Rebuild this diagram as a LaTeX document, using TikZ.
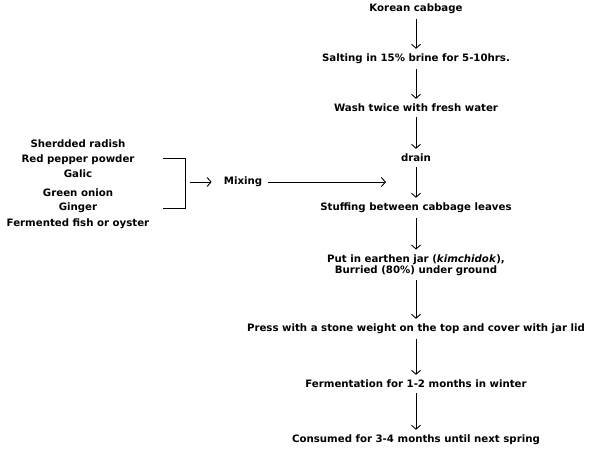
\documentclass[tikz,border=0pt]{standalone}
\usepackage{fontspec}
\setmainfont{DejaVu Sans}
\usetikzlibrary{arrows.meta}

\begin{document}
\begin{tikzpicture}[x=1pt,y=-1pt,
  t/.style={font=\fontsize{10.2}{12}\selectfont\bfseries,inner sep=5pt,align=center},
  a/.style={line width=0.9pt,-{Straight Barb[length=4pt,width=9pt,line width=0.9pt]}}]
\useasboundingbox (0,0) rectangle (600,459);

\node[t] (s0) at (416,9) {Korean cabbage};
\node[t] (s1) at (416,59) {Salting in 15\% brine for 5-10hrs.};
\node[t] (s2) at (416,108) {Wash twice with fresh water};
\node[t] (s3) at (416,158) {drain};
\node[t] (s4) at (416,208) {Stuffing between cabbage leaves};
\node[t] (s5) at (416,265) {Put in earthen jar (\textit{kimchidok}),\\[-1.5pt]Burried (80\%) under ground};
\node[t] (s6) at (416,329) {Press with a stone weight on the top and cover with jar lid};
\node[t] (s7) at (416,384) {Fermentation for 1-2 months in winter};
\node[t] (s8) at (416,440) {Consumed for 3-4 months until next spring};

\draw[a] (s0)--(s1);
\draw[a] (s1)--(s2);
\draw[a] (s2)--(s3);
\draw[a] (s3)--(s4);
\draw[a] (s4)--(s5);
\draw[a] (s5)--(s6);
\draw[a] (s6)--(s7);
\draw[a] (s7)--(s8);

\node[t,inner sep=0pt] (i1) at (78,144) {Sherdded radish};
\node[t,inner sep=0pt] (i2) at (78,160) {Red pepper powder};
\node[t,inner sep=0pt] (i3) at (78,174) {Galic};
\node[t,inner sep=0pt] (i4) at (78,193) {Green onion};
\node[t,inner sep=0pt] (i5) at (78,208) {Ginger};
\node[t,inner sep=0pt] (i6) at (78,224) {Fermented fish or oyster};

\coordinate (b0) at (163,158);
\coordinate (b1) at (163,208);
\coordinate (b2) at (190,182);
\coordinate (m1) at (386,182);
\draw[line width=0.9pt] (b0) -- ++(22,0) |- (b1);
\node[t,inner sep=0pt] (mx) at (243,182) {Mixing};
\draw[a,shorten >=12pt] (b2)--(mx);
\draw[a,shorten <=6pt] (mx)--(m1);
\end{tikzpicture}
\end{document}
